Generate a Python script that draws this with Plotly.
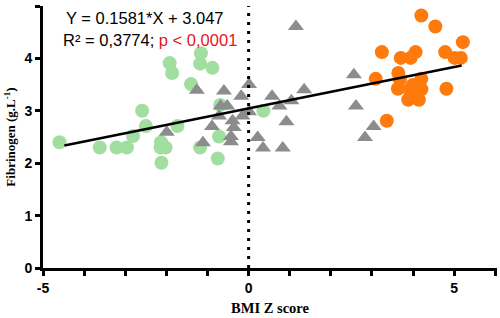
import plotly.graph_objects as go

# Green circles (group 1)
green_x = [-4.60, -3.62, -3.21, -2.96, -2.81, -2.59, -2.50, -2.13, -2.14, -2.02, -2.12,
           -1.92, -1.86, -1.73, -1.40, -1.16, -1.18, -0.88, -1.18, -0.72, -0.69, -0.75, 0.36]
green_y = [2.40, 2.30, 2.30, 2.30, 2.52, 3.00, 2.71, 2.40, 2.30, 2.30, 2.01,
           3.91, 3.72, 2.71, 3.51, 4.10, 3.90, 3.82, 2.30, 2.51, 3.11, 2.09, 3.00]

# Gray triangles (group 2)
gray_x = [-1.99, -1.26, -1.11, -0.89, -0.60, -0.68, -0.52, -0.72, -0.39, -0.36, -0.43, -0.43,
          -0.18, -0.15, 0.01, 0.01, 0.22, 0.35, 0.83, 0.57, 0.75, 1.04, 0.92, 1.35, 1.15,
          2.56, 2.61, 3.04, 2.83]
gray_y = [2.59, 3.39, 2.39, 2.70, 3.38, 3.09, 3.09, 2.90, 2.81, 2.68, 2.51, 2.41,
          3.28, 2.90, 3.50, 2.98, 2.49, 2.29, 2.29, 3.28, 3.09, 3.19, 2.79, 3.40, 4.61,
          3.69, 3.09, 2.70, 2.49]

# Orange circles (group 3)
orange_x = [4.20, 4.54, 5.21, 3.24, 3.70, 3.94, 4.06, 4.78, 5.01, 5.16, 3.09, 3.64,
            3.68, 4.20, 3.99, 4.07, 3.63, 4.20, 3.91, 4.81, 3.88, 4.14, 3.36]
orange_y = [4.82, 4.61, 4.31, 4.12, 4.01, 4.01, 4.12, 4.12, 4.01, 4.01, 3.61, 3.72,
            3.60, 3.61, 3.49, 3.44, 3.42, 3.41, 3.40, 3.42, 3.21, 3.21, 2.81]

# Regression
slope = 0.1581
intercept = 3.047
fit_x = [-4.48, 5.18]
fit_y = [slope * v + intercept for v in fit_x]

x_tickvals = [-5, -4, -3, -2, -1, 0, 1, 2, 3, 4, 5, 6]
x_ticktext = ["-5", "", "", "", "", "0", "", "", "", "", "5", ""]
y_tickvals = [0, 1, 2, 3, 4, 5]

fig = go.Figure()
fig.add_trace(go.Scatter(x=green_x, y=green_y, mode="markers",
                         marker=dict(symbol="circle", size=14, color="#a1dfa1"), showlegend=False))
fig.add_trace(go.Scatter(x=gray_x, y=gray_y, mode="markers",
                         marker=dict(symbol="triangle-up", size=14, color="#8c8c8c"), showlegend=False))
fig.add_trace(go.Scatter(x=orange_x, y=orange_y, mode="markers",
                         marker=dict(symbol="circle", size=14, color="#ff7a0d"), showlegend=False))
fig.add_trace(go.Scatter(x=fit_x, y=fit_y, mode="lines",
                         line=dict(color="black", width=2.5), showlegend=False))

fig.add_shape(type="line", x0=0, x1=0, y0=0, y1=5, xref="x", yref="y",
              line=dict(color="black", width=3, dash="3px,6px"))

fig.add_annotation(x=-2.53, y=4.77, xref="x", yref="y", showarrow=False,
                   text="Y = 0.1581*X + 3.047",
                   font=dict(family="Liberation Sans, Arial", size=16.5, color="black"))
fig.add_annotation(x=-2.40, y=4.36, xref="x", yref="y", showarrow=False,
                   text="R² = 0,3774; <span style='color:#e8141a'>p < 0,0001</span>",
                   font=dict(family="Liberation Sans, Arial", size=16.5, color="black"))

fig.update_layout(
    width=500, height=318,
    margin=dict(l=43, r=3, t=6, b=48),
    plot_bgcolor="white", paper_bgcolor="white",
    xaxis=dict(range=[-5, 6.04], tickvals=x_tickvals, ticktext=x_ticktext,
               showline=True, linewidth=3, linecolor="black", mirror=False,
               ticks="outside", ticklen=5, tickwidth=2.5, tickcolor="black",
               showgrid=False, zeroline=False,
               tickfont=dict(family="Liberation Sans, Arial", size=14, color="black", weight="bold"),
               title=dict(text="<b>BMI Z score</b>", standoff=9,
                          font=dict(family="Liberation Serif, Times New Roman", size=14.5, color="black"))),
    yaxis=dict(range=[0, 5], tickvals=y_tickvals,
               showline=True, linewidth=3, linecolor="black",
               ticks="outside", ticklen=5, tickwidth=2.5, tickcolor="black",
               showgrid=False, zeroline=False,
               tickfont=dict(family="Liberation Sans, Arial", size=14, color="black", weight="bold"),
               title=dict(text="<b>Fibrinogen (g.L<sup>-1</sup>)</b>", standoff=6,
                          font=dict(family="Liberation Serif, Times New Roman", size=13, color="black"))),
)

fig.write_html("out.html", config={"displayModeBar": False},
               post_script="document.body.style.margin='0';document.body.style.overflow='hidden';")
